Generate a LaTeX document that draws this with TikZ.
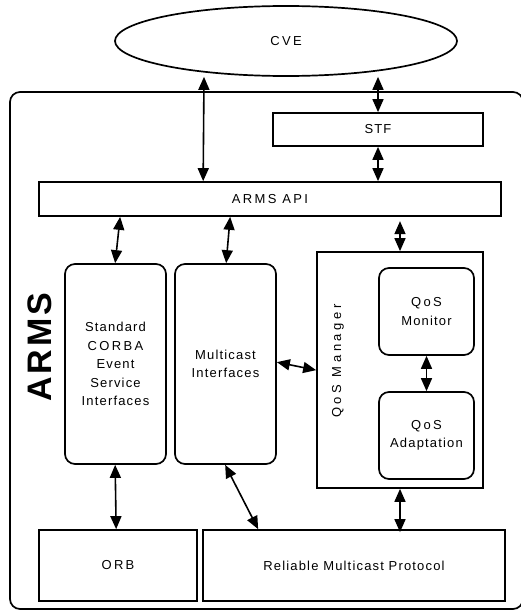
\documentclass[tikz,border=0pt]{standalone}
\usepackage{fontspec}
\setmainfont{Liberation Sans}[LetterSpace=9]
\newfontfamily\widefont{Liberation Sans}[LetterSpace=18]
\newfontfamily\widerfont{Liberation Sans}[LetterSpace=28]
\usetikzlibrary{arrows.meta, shapes.geometric}

\tikzset{
  blk/.style={draw, line width=1.7pt, inner sep=0pt, align=center,
    font=\fontsize{13}{18.5}\selectfont},
  softblk/.style={blk, rounded corners=10pt},
  dbl/.style={line width=1.6pt,
    {Triangle[length=13pt,width=11pt]}-{Triangle[length=13pt,width=11pt]}},
}

\begin{document}
\begin{tikzpicture}[x=1pt, y=-1pt]
            \useasboundingbox (0,0) rectangle (520,610);
            % outer ARMS frame
            \draw[line width=1.7pt, rounded corners=10pt] (10,92) rectangle (523,609);
            \node[rotate=90, font=\fontsize{34}{34}\bfseries] (arms) at (40,347) {ARMS};

            \node[blk, ellipse, minimum width=342pt, minimum height=70pt] (cve) at (286,41) {\widefont CVE};
            \node[blk, minimum width=210pt, minimum height=33pt] (stf) at (378,129.5) {STF};
            \node[blk, minimum width=462pt, minimum height=34pt] (api) at (270,199) {\widefont ARMS API};

            \node[softblk, minimum width=101pt, minimum height=200pt] (corba) at (115.5,364)
                {Standard\\{\widefont CORBA}\\Event\\Service\\Interfaces};
            \node[softblk, minimum width=101pt, minimum height=200pt] (mcast) at (225.5,364)
                {Multicast\\Interfaces};

            \node[blk, minimum width=166pt, minimum height=236pt] (qosmgr) at (400,370) {};
            \node[rotate=90, font=\fontsize{13}{15}\selectfont] (qosmgrlbl) at (338,361) {\widerfont QoS Manager};
            \node[softblk, minimum width=95pt, minimum height=87pt] (qosmon) at (426.5,311.5)
                {{\widefont QoS}\\Monitor};
            \node[softblk, minimum width=95pt, minimum height=87pt] (qosadapt) at (426.5,435.5)
                {{\widefont QoS}\\Adaptation};

            \node[blk, minimum width=158pt, minimum height=71pt] (orb) at (118,565.5) {\widefont ORB};
            \node[blk, minimum width=302pt, minimum height=71pt] (rmp) at (354,565.5) {Reliable Multicast Protocol};

            \draw[dbl] ([xshift=-82pt]cve.south) -- ([xshift=165pt]api.north west);
            \draw[dbl] ([xshift=92pt]cve.south) -- (stf.north);
            \draw[dbl] (stf.south) -- (stf.south |- api.north);

            \draw[dbl] ([xshift=82pt]api.south west) -- ([xshift=51pt]corba.north west);
            \draw[dbl] ([xshift=192pt]api.south west) -- ([xshift=52pt]mcast.north west);
            \draw[dbl] ([yshift=30pt]qosmgr.north) -- (qosmgr.north);
            \draw[dbl] ([yshift=-99pt]mcast.north east) -- ([yshift=-119pt]qosmgr.north west);
            \draw[dbl] (qosmon.south) -- (qosadapt.north);

            \draw[dbl] ([xshift=51pt]corba.south west) -- ([xshift=78pt]orb.north west);
            \draw[dbl] ([xshift=51pt]mcast.south west) -- ([xshift=56pt]rmp.north west);
            \draw[dbl] (qosmgr.south) -- ([yshift=-3pt]qosmgr.south |- rmp.north);
        \end{tikzpicture}
\end{document}
